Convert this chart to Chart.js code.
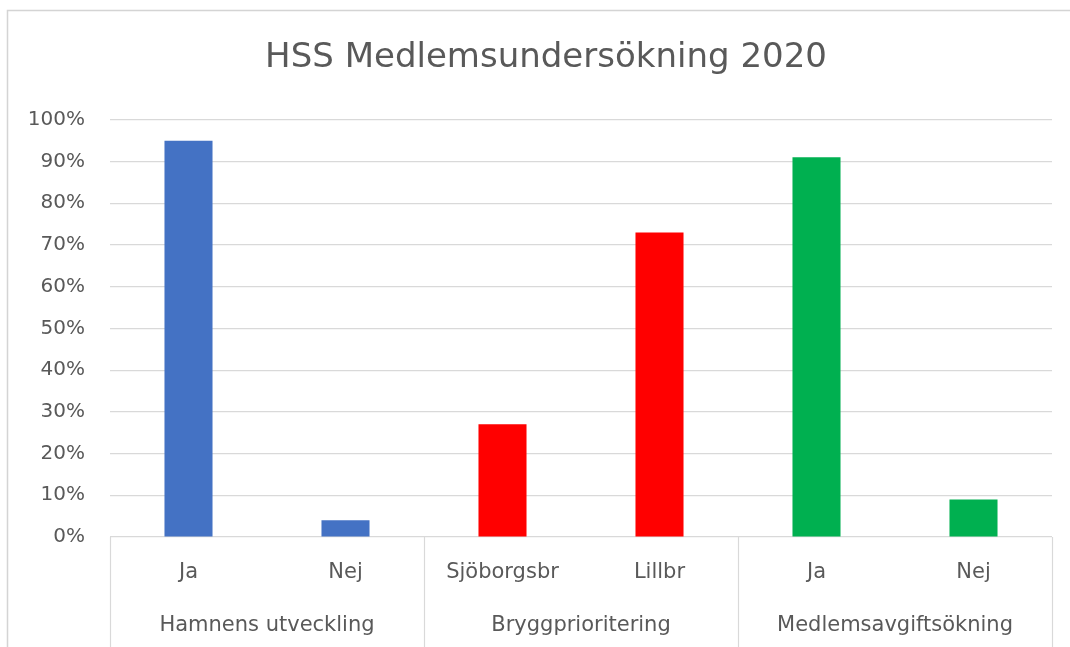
<!DOCTYPE html>
<html>
<head>
<meta charset="utf-8">
<script src="https://cdn.jsdelivr.net/npm/chart.js@4/dist/chart.umd.min.js"></script>
<style>
  html, body { margin: 0; padding: 0; background: #ffffff; }
  #wrap { position: relative; width: 1070px; height: 647px; }
</style>
</head>
<body>
<div id="wrap"><canvas id="c" width="1070" height="647"></canvas></div>
<script>
const title = 'HSS Medlemsundersökning 2020';
const categories = ['Ja', 'Nej', 'Sjöborgsbr', 'Lillbr', 'Ja', 'Nej'];
const groups = ['Hamnens utveckling', 'Bryggprioritering', 'Medlemsavgiftsökning'];
const groupSizes = [2, 2, 2];
const values = [95, 4, 27, 73, 91, 9];
const barColors = ['#4472C4', '#4472C4', '#FF0000', '#FF0000', '#00B050', '#00B050'];
const yTicks = [0, 10, 20, 30, 40, 50, 60, 70, 80, 90, 100];

const FONT = "'DejaVu Sans', sans-serif";
const TEXT = '#595959';
const GRID = '#d9d9d9';

const framePlugin = {
  id: 'frame',
  afterLayout(chart) {
    if (chart.titleBlock) {
      chart.titleBlock.left = 40;
    }
  },
  beforeDraw(chart) {
    const ctx = chart.ctx;
    ctx.save();
    ctx.strokeStyle = '#d4d4d4';
    ctx.lineWidth = 1.5;
    ctx.beginPath();
    ctx.moveTo(7.5, 647);
    ctx.lineTo(7.5, 10.5);
    ctx.lineTo(1070, 10.5);
    ctx.stroke();
    ctx.restore();
  }
};

const dividerPlugin = {
  id: 'dividers',
  afterDraw(chart) {
    const xs = chart.scales.x;
    const ctx = chart.ctx;
    const top = chart.chartArea.bottom;
    const bottom = chart.height;
    const pos = [xs.left];
    let idx = 0;
    groupSizes.forEach((n, g) => {
      idx += n;
      if (g < groupSizes.length - 1) {
        pos.push((xs.getPixelForValue(idx - 1) + xs.getPixelForValue(idx)) / 2);
      }
    });
    pos.push(xs.right);
    ctx.save();
    ctx.strokeStyle = GRID;
    ctx.lineWidth = 1.2;
    pos.forEach(p => {
      const x = Math.round(p) + 0.5;
      ctx.beginPath();
      ctx.moveTo(x, top);
      ctx.lineTo(x, bottom);
      ctx.stroke();
    });
    ctx.restore();
  }
};

new Chart(document.getElementById('c'), {
  type: 'bar',
  data: {
    labels: categories,
    datasets: [{
      data: values,
      backgroundColor: barColors,
      borderWidth: 0,
      barPercentage: 0.306,
      categoryPercentage: 1.0,
      xAxisID: 'x',
      yAxisID: 'y'
    }]
  },
  options: {
    responsive: false,
    animation: false,
    devicePixelRatio: 1,
    layout: { padding: { left: 8, right: 18, top: 0, bottom: 0 } },
    plugins: {
      legend: { display: false },
      tooltip: { enabled: false },
      title: {
        display: true,
        text: title,
        color: TEXT,
        font: { family: FONT, size: 34, weight: 'normal', lineHeight: 1.2 },
        padding: { top: 38, bottom: 41 }
      }
    },
    scales: {
      y: {
        min: 0,
        max: 100,
        afterBuildTicks(scale) { scale.ticks = yTicks.map(v => ({ value: v })); },
        afterFit(scale) { scale.width = 102; },
        ticks: {
          color: TEXT,
          padding: 25,
          font: { family: FONT, size: 20 },
          callback: v => v + '%'
        },
        grid: { color: GRID, lineWidth: 1.2, drawTicks: false },
        border: { display: false }
      },
      x: {
        position: 'bottom',
        afterFit(scale) { scale.height = 58; },
        ticks: {
          color: TEXT,
          padding: 23,
          autoSkip: false,
          maxRotation: 0,
          font: { family: FONT, size: 21 }
        },
        grid: { display: false, drawTicks: false },
        border: { display: false }
      },
      xg: {
        type: 'category',
        position: 'bottom',
        labels: groups,
        offset: true,
        afterFit(scale) { scale.height = 52; },
        ticks: {
          color: TEXT,
          padding: 18,
          autoSkip: false,
          maxRotation: 0,
          font: { family: FONT, size: 21 }
        },
        grid: { display: false, drawTicks: false },
        border: { display: false }
      }
    }
  },
  plugins: [framePlugin, dividerPlugin]
});
</script>
</body>
</html>
